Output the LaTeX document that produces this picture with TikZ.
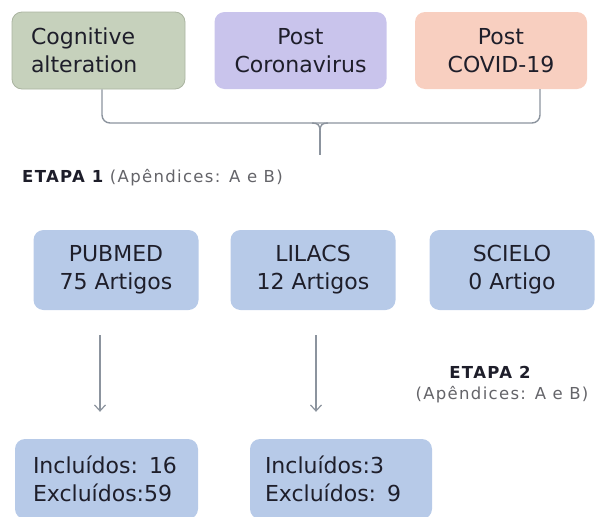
\documentclass[tikz,border=0pt]{standalone}
\usepackage{fontspec}
\setmainfont{DejaVu Sans}
\newfontfamily\etapafont[LetterSpace=8]{DejaVu Sans}
\usetikzlibrary{arrows.meta}
\definecolor{cogfill}{RGB}{198,209,188}
\definecolor{cogdraw}{RGB}{170,180,160}
\definecolor{corfill}{RGB}{201,196,236}
\definecolor{covfill}{RGB}{248,207,192}
\definecolor{bluefill}{RGB}{183,202,232}
\definecolor{linecol}{RGB}{140,148,158}
\definecolor{txtcol}{RGB}{30,30,42}
\definecolor{graytxt}{RGB}{100,100,105}
\tikzset{
  box/.style={rounded corners=10pt, align=center, inner sep=0pt,
    font=\fontsize{22}{28}\selectfont, text=txtcol},
  topbox/.style={box, minimum width=172pt, minimum height=77pt},
  midbox/.style={box, fill=bluefill, minimum width=165pt, minimum height=80pt},
  botbox/.style={box, fill=bluefill, minimum height=80pt, align=left},
  conn/.style={draw=linecol, line width=1.4pt},
  arr/.style={conn, -{Straight Barb[length=6pt,width=11pt,line width=1.2pt]}},
  etapa/.style={inner sep=0pt, font=\etapafont\fontsize{16.5}{18}\selectfont}
}
\begin{document}
\begin{tikzpicture}[x=1pt,y=-1pt]
\useasboundingbox (0,0) rectangle (595,517);
% top row
\node[topbox, fill=cogfill, draw=cogdraw, line width=0.8pt, text width=135pt, inner xsep=19pt, align=left, minimum width=0pt] (cog) at (98.5,50.5) {Cognitive\\alteration};
\node[topbox, fill=corfill] (cor) at (300.5,50.5) {Post\\Coronavirus};
\node[topbox, fill=covfill] (cov) at (501,50.5) {Post\\COVID-19};
% bracket
\coordinate (bl) at (102,123);
\coordinate (br) at (540,123);
\coordinate (stemtop) at (320,131);
\coordinate (stem) at (320,155);
\draw[conn, rounded corners=8pt] (cog.south -| bl) -- (bl) -- (br) -- (cov.south -| br);
\draw[conn] (312,123) .. controls (318,123) and (320,125) .. (stemtop);
\draw[conn] (328,123) .. controls (322,123) and (320,125) .. (stemtop);
\draw[conn] (stemtop) -- (stem);
% etapa 1
\node[etapa, anchor=west] (e1) at (22,178) {\textcolor{txtcol}{\bfseries ETAPA 1} \textcolor{graytxt}{(Apêndices: A e B)}};
% middle row
\node[midbox] (pub) at (116,270) {PUBMED\\75 Artigos};
\node[midbox] (lil) at (313,270) {LILACS\\12 Artigos};
\node[midbox] (sci) at (512,270) {SCIELO\\0 Artigo};
% bottom row
\node[botbox, text width=167pt, inner xsep=8pt] (inc1) at (106.5,479) {\hspace*{10pt}Incluídos: 16\\\hspace*{10pt}Excluídos:59};
\node[botbox, text width=166pt, inner xsep=8pt] (inc2) at (341,479) {\hspace*{7pt}Incluídos:3\\\hspace*{7pt}Excluídos: 9};
% arrows
\coordinate (a1) at (100,0);
\coordinate (a2) at (316,0);
\draw[arr, shorten <=25pt, shorten >=27pt] (pub.south -| a1) -- (inc1.north -| a1);
\draw[arr, shorten <=25pt, shorten >=27pt] (lil.south -| a2) -- (inc2.north -| a2);
% etapa 2
\node[etapa, text=txtcol, font=\etapafont\bfseries\fontsize{16.5}{18}\selectfont] (e2) at (490,372) {ETAPA 2};
\node[etapa, text=graytxt] (e2b) at (502,395) {(Apêndices: A e B)};
\end{tikzpicture}
\end{document}
